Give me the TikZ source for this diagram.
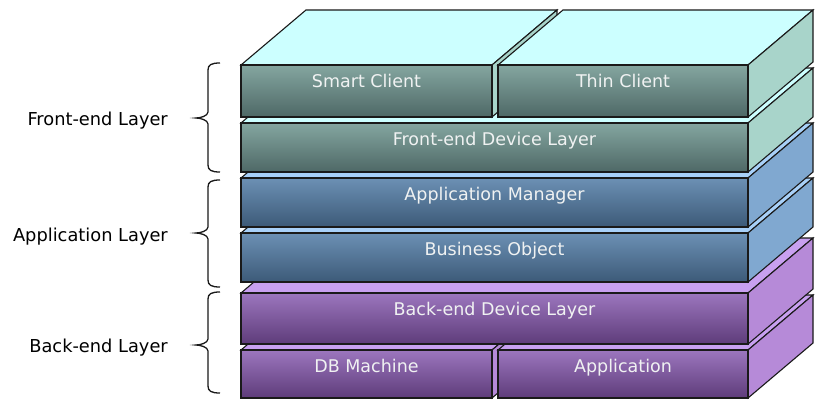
\documentclass[tikz,border=0pt]{standalone}
\usepackage{fontspec}
\setmainfont{DejaVu Sans}
\definecolor{tealtop}{HTML}{CCFFFF}
\definecolor{tealside}{HTML}{A8D4CA}
\definecolor{tealfa}{HTML}{84A6A0}
\definecolor{tealfb}{HTML}{4E6866}
\definecolor{bluetop}{HTML}{A8D0F8}
\definecolor{blueside}{HTML}{80A8D0}
\definecolor{bluefa}{HTML}{6C90B4}
\definecolor{bluefb}{HTML}{3C5A78}
\definecolor{purptop}{HTML}{C8A0F0}
\definecolor{purpside}{HTML}{B68AD8}
\definecolor{purpfa}{HTML}{9C76BE}
\definecolor{purpfb}{HTML}{5E3C7A}
\definecolor{edgecol}{HTML}{1A1A1A}
\definecolor{txtcol}{HTML}{F0F2F2}
\newcommand\layerslab[7]{%
  \filldraw[edgeline, fill=#5top] (#1,#3) -- ({#1+65},{#3-55}) -- ({#2+65},{#3-55}) -- (#2,#3) -- cycle;
  \filldraw[edgeline, fill=#5side] (#2,#3) -- ({#2+65},{#3-55}) -- ({#2+65},{#4-55}) -- (#2,#4) -- cycle;
  \node[face, top color=#5fa, bottom color=#5fb, minimum width={(#2-#1)*1pt}, minimum height={(#4-#3)*1pt}] (#6) at ({(#1+#2)/2},{(#3+#4)/2}) {};
  \path (#6.north) ++(0,22) node[facetext] (#6-t) {#7};
}
\newcommand\layerbrace[3]{%
  \draw[bracel] ({220},{#1}) .. controls (211,{#1}) and (208,{#1+2}) .. (208,{#1+7})
    -- (208,{#2-6}) .. controls (208,{#2-2}) and (200,{#2}) .. (196,{#2})
    .. controls (200,{#2}) and (208,{#2+2}) .. (208,{#2+6})
    -- (208,{#3-7}) .. controls (208,{#3-2}) and (211,{#3}) .. (220,{#3});
}
\begin{document}
\begin{tikzpicture}[x=1pt,y=-1pt, line join=miter,
  edgeline/.style={draw=edgecol, line width=1.1pt},
  face/.style={draw=edgecol, line width=1.1pt, rectangle, inner sep=0pt, outer sep=0pt},
  facetext/.style={text=txtcol, font=\fontsize{17.5}{20}\selectfont, anchor=base, inner sep=0pt},
  lbl/.style={text=black, font=\fontsize{17.8}{20}\selectfont, anchor=base east, inner sep=0pt},
  bracel/.style={draw=edgecol, line width=1.3pt}]
\useasboundingbox (0,0) rectangle (821,399);
\fill[white] (0,0) rectangle (821,399);

\layerslab{241}{492}{350}{398}{purp}{db}{DB Machine}
\layerslab{498}{748}{350}{398}{purp}{app}{Application}
\layerslab{241}{748}{293}{344}{purp}{bedev}{Back-end Device Layer}
\layerslab{241}{748}{233}{282}{blue}{bo}{Business Object}
\layerslab{241}{748}{178}{227}{blue}{am}{Application Manager}
\layerslab{241}{748}{123}{172}{teal}{fedev}{Front-end Device Layer}
\layerslab{241}{492}{65}{117}{teal}{smart}{Smart Client}
\layerslab{498}{748}{65}{117}{teal}{thin}{Thin Client}

\layerbrace{63}{118}{172}
\layerbrace{180}{233}{287}
\layerbrace{292}{345}{393}

\node[lbl] (lfe) at (168,125) {Front-end Layer};
\node[lbl] (lapp) at (168,241) {Application Layer};
\node[lbl] (lbe) at (168,352) {Back-end Layer};
\end{tikzpicture}
\end{document}
